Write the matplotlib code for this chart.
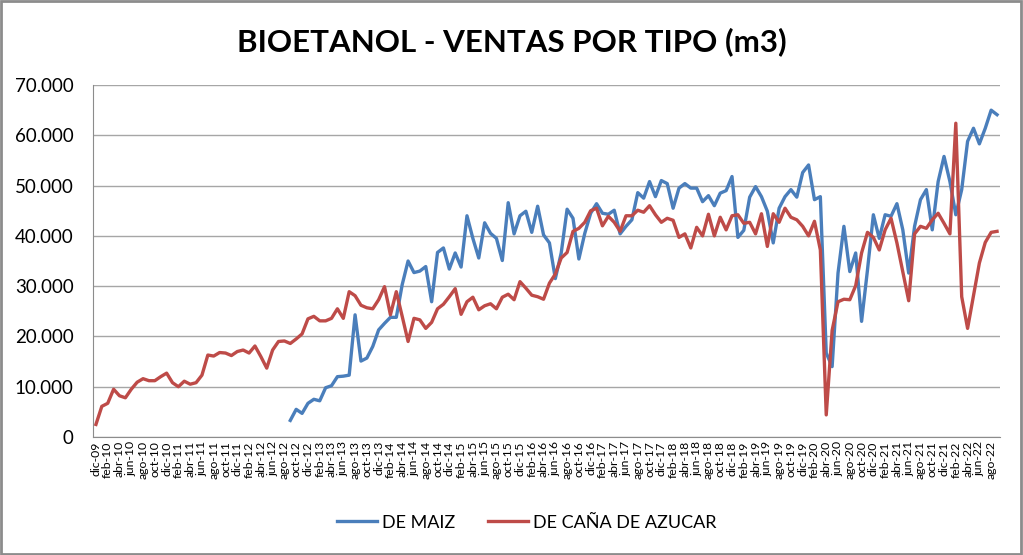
import numpy as np
import matplotlib
matplotlib.use("Agg")
import matplotlib.pyplot as plt
from matplotlib.patches import Rectangle
from matplotlib.ticker import FuncFormatter

plt.rcParams['font.family'] = ['Lato', 'DejaVu Sans']

# meses dic-09 .. sep-22 (154 meses)
meses = ['ene', 'feb', 'mar', 'abr', 'may', 'jun', 'jul', 'ago', 'sep', 'oct', 'nov', 'dic']
categorias = [f"{meses[(11 + k) % 12]}-{(9 + (11 + k) // 12):02d}" for k in range(154)]

# ventas de caña de azucar (m3), desde dic-09
cana = [2500, 6100, 6700, 9500, 8200, 7800, 9500, 10900, 11600, 11200, 11200, 12000,
        12700, 10800, 10000, 11100, 10500, 10800, 12300, 16300, 16100, 16800,
        16700, 16200, 17000, 17300, 16700, 18100, 16000, 13700, 17300, 19000, 19100,
        18600, 19500, 20500, 23500, 24000, 23100, 23100, 23600, 25500, 23600, 28900,
        28100, 26200, 25700, 25500, 27300, 29900, 24300, 28900, 24000, 19000, 23600,
        23300, 21600, 22800, 25500, 26400, 27900, 29500, 24400, 26900, 27800, 25300,
        26100, 26500, 25500, 27800, 28400, 27300, 30900, 29600, 28200, 27900, 27400,
        30600, 32400, 35600, 36700, 40900, 41500, 42700, 45000, 45500, 42000, 43900, 42700,
        40900, 44000, 44000, 45100, 44700, 46000, 44200, 42700, 43500, 43100, 39700,
        40400, 37600, 41700, 40000, 44300, 40000, 43700, 41200, 44000, 44200, 42500,
        42700, 40400, 44400, 37900, 44400, 42700, 45500, 43700, 43200, 41900, 40000,
        42900, 37200, 4400, 21200, 26900, 27400, 27300, 30100, 36600, 40700, 39700,
        37200, 41200, 43500, 38600, 32900, 27100, 40400, 41900, 41500, 43200, 44500,
        42500, 40400, 62400, 27900, 21600, 28100, 34600, 38700, 40700, 40900]

# ventas de maiz (m3), desde sep-12
inicio_maiz = 33
maiz = [3300, 5500, 4700, 6700, 7500, 7200, 9800, 10200, 12000, 12100, 12300,
        24300, 15100, 15700, 18000, 21300, 22600, 23800, 23800, 30300, 35000, 32700,
        33000, 33900, 26900, 36700, 37600, 33400, 36600, 33800, 44000, 39500, 35600,
        42600, 40500, 39500, 35100, 46600, 40400, 44000, 44900, 40700, 45900, 40200,
        38600, 31500, 36600, 45300, 43500, 35400, 40500, 44500, 46400, 44500, 44300, 45100,
        40400, 41900, 43200, 48600, 47500, 50800, 47800, 51000, 50400, 45500, 49500,
        50400, 49500, 49500, 46800, 48000, 46000, 48500, 49000, 51800, 39700, 41100,
        47700, 49800, 47800, 44900, 38600, 45500, 47800, 49200, 47700, 52600, 54100,
        47200, 47800, 16700, 14000, 32600, 41900, 32900, 36600, 23000, 33200, 44200,
        39500, 44200, 43900, 46400, 41200, 32600, 41900, 47200, 49200, 41200, 50800,
        55800, 50800, 44200, 49200, 58800, 61400, 58300, 61400, 65000, 64100]

x = np.arange(len(categorias))
y_maiz = np.full(len(categorias), np.nan)
y_maiz[inicio_maiz:] = maiz

fig = plt.figure(figsize=(10.23, 5.55), dpi=100)
ax = fig.add_axes([0.0909, 0.2126, 0.8866, 0.6342])

ax.plot(x, y_maiz, color='#4a7ebb', lw=2.4, label='DE MAIZ', solid_joinstyle='round')
ax.plot(x, cana, color='#be4b48', lw=2.4, label='DE CAÑA DE AZUCAR', solid_joinstyle='round')

ax.set_xlim(-0.5, len(categorias) - 0.5)
ax.set_ylim(0, 70000)
ax.set_yticks(np.arange(0, 70001, 10000))
ax.yaxis.set_major_formatter(FuncFormatter(lambda v, p: f"{int(v):,}".replace(',', '.')))
ax.set_xticks(x[::2])
ax.set_xticklabels(categorias[::2], rotation=90, fontsize=8.8)
ax.tick_params(axis='y', labelsize=13.5, length=0, pad=14)
ax.tick_params(axis='x', length=0, pad=3)

ax.grid(axis='y', color='#a6a6a6', lw=1)
ax.set_axisbelow(True)
for s in ['top', 'right']:
    ax.spines[s].set_visible(False)
for s in ['left', 'bottom']:
    ax.spines[s].set_color('#8c8c8c')

fig.text(0.5, 0.925, 'BIOETANOL - VENTAS POR TIPO (m3)', ha='center', va='center',
         fontsize=22.5, fontweight='bold')

fig.legend(loc='center', bbox_to_anchor=(0.515, 0.058), ncol=2, frameon=False,
           fontsize=13, handlelength=2.2, handletextpad=0.3, columnspacing=1.8)

fig.patches.append(Rectangle((0.001, 0.002), 0.997, 0.996, transform=fig.transFigure,
                             fill=False, edgecolor='#8c8c8c', lw=2))

fig.savefig('out.png', dpi=100)
